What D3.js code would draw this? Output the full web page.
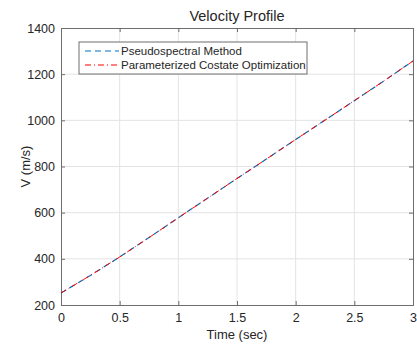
<!DOCTYPE html>
<html>
<head>
<meta charset="UTF-8">
<title>Velocity Profile</title>
<script src="https://cdn.jsdelivr.net/npm/d3@7/dist/d3.min.js"></script>
<style>
    body{ margin:0; background:#fff; }
    text{ font-family: "Liberation Sans", Arial, sans-serif; fill:#262626; }
</style>
</head>
<body>
<div id="grafico"></div>
<script>
// datos
var tiempo = [0, 0.25, 0.5, 0.75, 1, 1.25, 1.5, 1.75, 2, 2.25, 2.5, 2.75, 3];
var vPseudo = [252, 328, 408, 492, 578, 663, 748, 832, 917, 1001, 1085, 1170, 1257];
var vCostate = [252, 328, 408, 492, 578, 663, 748, 832, 917, 1001, 1085, 1170, 1257];
var xTicks = [0, 0.5, 1, 1.5, 2, 2.5, 3];
var yTicks = [200, 400, 600, 800, 1000, 1200, 1400];
var series = ["Pseudospectral Method", "Parameterized Costate Optimization"];

var w = 417, h = 344;
var m = {left: 61, right: 413, top: 28, bottom: 305};

var x = d3.scaleLinear().domain([0, 3]).range([m.left, m.right]);
var y = d3.scaleLinear().domain([200, 1400]).range([m.bottom, m.top]);

var svg = d3.select("#grafico").append("svg")
    .attr("width", w).attr("height", h);

// rejilla
svg.append("g").selectAll("line").data(xTicks.slice(1, -1)).enter().append("line")
    .attr("x1", d => x(d)).attr("x2", d => x(d))
    .attr("y1", m.top).attr("y2", m.bottom)
    .attr("stroke", "#e3e3e3").attr("stroke-width", 1);
svg.append("g").selectAll("line").data(yTicks.slice(1, -1)).enter().append("line")
    .attr("y1", d => y(d)).attr("y2", d => y(d))
    .attr("x1", m.left).attr("x2", m.right)
    .attr("stroke", "#e3e3e3").attr("stroke-width", 1);

// ejes
var ejeX = d3.axisBottom(x).tickValues(xTicks).tickSize(-4).tickPadding(8).tickFormat(d3.format("~g"));
var ejeY = d3.axisLeft(y).tickValues(yTicks).tickSize(-4).tickPadding(6).tickFormat(d3.format("d"));
var gx = svg.append("g").attr("transform", "translate(0," + m.bottom + ")").call(ejeX);
var gy = svg.append("g").attr("transform", "translate(" + m.left + ",0)").call(ejeY);
svg.append("g").attr("transform", "translate(0," + m.top + ")")
    .call(d3.axisTop(x).tickValues(xTicks).tickSize(-4).tickFormat(""));
svg.append("g").attr("transform", "translate(" + m.right + ",0)")
    .call(d3.axisRight(y).tickValues(yTicks).tickSize(-4).tickFormat(""));
svg.selectAll(".domain, .tick line").attr("stroke", "#6e6e6e");
gx.selectAll("text").style("font-size", "12.5px").attr("fill", "#262626");
gy.selectAll("text").style("font-size", "12.5px").attr("fill", "#262626");

// lineas
var linea = d3.line().x((d, i) => x(tiempo[i])).y(d => y(d));
svg.append("path").datum(vPseudo).attr("d", linea)
    .attr("fill", "none").attr("stroke", "#0072BD").attr("stroke-width", 1.2)
    .attr("stroke-dasharray", "6,4");
svg.append("path").datum(vCostate).attr("d", linea)
    .attr("fill", "none").attr("stroke", "#FF0000").attr("stroke-width", 1)
    .attr("stroke-dasharray", "6,3,1,3");

// titulos
svg.append("text").attr("x", (m.left + m.right) / 2).attr("y", 21)
    .attr("text-anchor", "middle").style("font-size", "14.5px").text("Velocity Profile");
svg.append("text").attr("x", (m.left + m.right) / 2).attr("y", 339)
    .attr("text-anchor", "middle").style("font-size", "13px").text("Time (sec)");
svg.append("text").attr("transform", "translate(30," + ((m.top + m.bottom) / 2) + ") rotate(-90)")
    .attr("text-anchor", "middle").style("font-size", "13px").text("V (m/s)");

// leyenda
var ley = svg.append("g");
ley.append("rect").attr("x", 79).attr("y", 42).attr("width", 228).attr("height", 32)
    .attr("fill", "#fff").attr("stroke", "#6e6e6e").attr("stroke-width", 1);
var estilos = [["#0072BD", "6,4"], ["#FF0000", "6,3,1,3"]];
series.forEach(function(s, i){
    var yy = 51 + i * 14;
    ley.append("line").attr("x1", 85).attr("x2", 119).attr("y1", yy).attr("y2", yy)
        .attr("stroke", estilos[i][0]).attr("stroke-width", 1.2).attr("stroke-dasharray", estilos[i][1]);
    ley.append("text").attr("x", 121).attr("y", yy + 4).style("font-size", "11.5px").text(s);
});
</script>
</body>
</html>
